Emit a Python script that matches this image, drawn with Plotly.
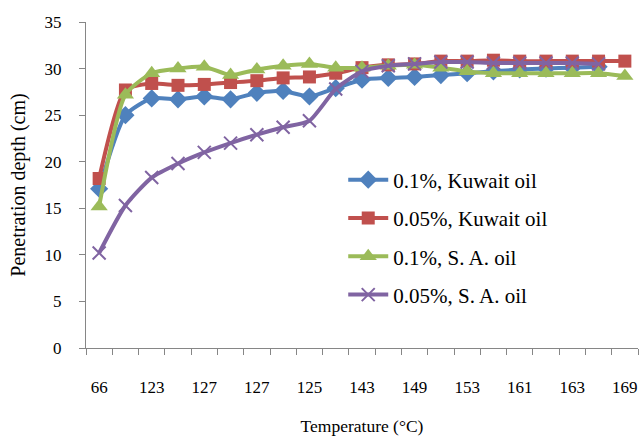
import plotly.graph_objects as go

# Temperature labels (every other category is labelled on the axis)
temp_labels = ["66", "123", "127", "127", "125", "143", "149", "153", "161", "163", "169"]

# Penetration depth (cm) for each test run
kuwait_01 = [17.1, 25.0, 26.8, 26.7, 27.0, 26.7, 27.4, 27.6, 27.0, 27.9, 28.8,
             29.0, 29.1, 29.3, 29.5, 29.7, 29.9, 30.0, 30.1, 30.2]
kuwait_005 = [18.2, 27.7, 28.4, 28.2, 28.3, 28.5, 28.7, 29.0, 29.1, 29.5, 30.1,
              30.4, 30.5, 30.8, 30.8, 30.9, 30.8, 30.8, 30.8, 30.8, 30.8]
sa_01 = [15.2, 27.2, 29.5, 30.0, 30.2, 29.3, 29.9, 30.3, 30.5, 30.1, 30.1,
         30.3, 30.4, 30.1, 29.7, 29.5, 29.5, 29.5, 29.5, 29.5, 29.2]
sa_005 = [10.2, 15.3, 18.3, 19.8, 21.0, 22.0, 22.9, 23.7, 24.4, 27.8, 29.7,
          30.3, 30.5, 30.7, 30.7, 30.6, 30.6, 30.6, 30.6, 30.5]

series = [
    ("0.1%, Kuwait oil", kuwait_01, "#4F81BD", "diamond", 14, 0),
    ("0.05%, Kuwait oil", kuwait_005, "#C0504D", "square", 13, 0),
    ("0.1%, S. A. oil", sa_01, "#9BBB59", "triangle-up", 15, 0),
    ("0.05%, S. A. oil", sa_005, "#8064A2", "x-thin", 13, 2),
]

n_cat = 2 * len(temp_labels) - 1
FONT = "'Liberation Serif', 'Times New Roman', serif"

fig = go.Figure()
for i, (name, vals, color, sym, size, lw) in enumerate(series):
    fig.add_trace(go.Scatter(
        x=list(range(len(vals))), y=vals, name=name, mode="lines+markers",
        legendgroup=f"g{i}",
        line=dict(color=color, width=4, shape="spline", smoothing=0.6),
        marker=dict(symbol=sym, size=size, color=color,
                    line=dict(color=color, width=lw)),
    ))

fig.update_layout(
    width=640, height=436,
    margin=dict(l=86, r=2, t=22, b=88),
    paper_bgcolor="white", plot_bgcolor="white",
    font=dict(family=FONT, size=17, color="black"),
    legend=dict(x=0.466, y=0.578, xanchor="left", yanchor="top",
                traceorder="grouped", tracegroupgap=8,
                font=dict(family=FONT, size=21), itemwidth=40,
                bgcolor="rgba(0,0,0,0)"),
    xaxis=dict(
        range=[-0.5, n_cat - 0.5],
        tickvals=list(range(0, n_cat, 2)), ticktext=temp_labels,
        ticks="", showgrid=False, zeroline=False,
        showline=True, linecolor="#868686", linewidth=1,
        ticklabelstandoff=24,
        tickfont=dict(family=FONT, size=17),
        minor=dict(tickvals=[k - 0.5 for k in range(n_cat + 1)],
                   ticks="outside", ticklen=6, tickcolor="#868686",
                   showgrid=False),
        title=dict(text="Temperature (°C)", standoff=25,
                   font=dict(family=FONT, size=17.5)),
    ),
    yaxis=dict(
        range=[0, 35], dtick=5, ticks="outside", ticklen=6,
        tickcolor="#868686", showgrid=False, zeroline=False,
        showline=True, linecolor="#868686", linewidth=1,
        ticklabelstandoff=14,
        tickfont=dict(family=FONT, size=17),
        title=dict(text="Penetration depth (cm)", standoff=13,
                   font=dict(family=FONT, size=20)),
    ),
)

fig.write_html("out.html")
